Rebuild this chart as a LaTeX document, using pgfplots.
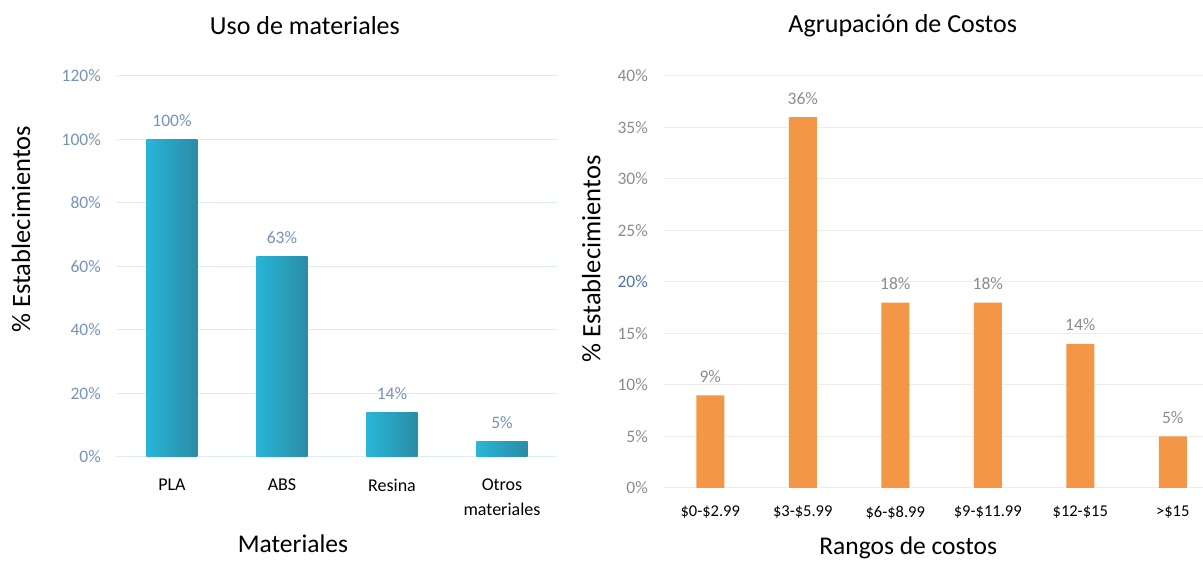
\documentclass[border=0pt]{standalone}
\usepackage{pgfplots}
\pgfplotsset{compat=1.18}
\usepackage{fontspec}
\setmainfont{Carlito}
\definecolor{tickblue}{HTML}{7692B9}
\definecolor{gridblue}{HTML}{DCEBF5}
\definecolor{barL}{HTML}{29B5D8}
\definecolor{barR}{HTML}{2A8CA4}
\definecolor{orangebar}{HTML}{F39646}
\definecolor{tickgray}{HTML}{8C8C8C}
\definecolor{gridgray}{HTML}{EDEDED}
\definecolor{oddblue}{HTML}{4F72AC}
\pgfplotsset{
  common/.style={
    scale only axis,
    anchor=south west,
    axis line style={draw=none},
    major tick style={draw=none},
    minor tick style={draw=none},
    ymajorgrids,
    /pgf/number format/assume math mode=true,
    yticklabel style={inner sep=0pt, xshift=-16pt, anchor=east},
    xticklabel style={inner sep=0pt, anchor=north, align=center},
    clip=false,
  }
}
\begin{document}
\begin{tikzpicture}
\useasboundingbox (0,0) rectangle (1203pt,562pt);
% ---------------- Left chart ----------------
\begin{axis}[common,
  at={(117pt,105pt)},
  width=440pt, height=381pt,
  xmin=-0.5, xmax=3.5, ymin=0, ymax=120,
  ytick={0,20,40,60,80,100,120},
  yticklabel={\pgfmathprintnumber{\tick}\%},
  yticklabel style={font=\fontsize{17.5}{21}\selectfont, text=tickblue},
  xtick={0,1,2,3},
  xticklabels={PLA,ABS,Resina,{Otros\\materiales}},
  xticklabel style={font=\fontsize{18}{25}\selectfont, yshift=-22pt},
  grid style={gridblue, line width=1pt},
  title={Uso de materiales},
  title style={at={(axis description cs:0.427,1.116)}, anchor=center, yshift=0pt, font=\fontsize{26}{30}\selectfont},
  xlabel={Materiales},
  xlabel style={at={(axis description cs:0.40,-0.228)}, anchor=center, font=\fontsize{25.5}{30}\selectfont},
  ylabel={\% Establecimientos},
  ylabel style={at={(axis description cs:-0.218,0.598)}, anchor=center, font=\fontsize{26.5}{30}\selectfont},
  nodes near coords={\pgfmathprintnumber{\pgfplotspointmeta}\%},
  nodes near coords style={anchor=center, yshift=19pt, font=\fontsize{17.5}{21}\selectfont, text=tickblue},
]
\addplot[ybar, bar width=51pt, bar shift=0pt, draw=none, left color=barL, right color=barR] coordinates {(0,100)};
\addplot[ybar, bar width=51pt, bar shift=0pt, draw=none, left color=barL, right color=barR] coordinates {(1,63)};
\addplot[ybar, bar width=51pt, bar shift=0pt, draw=none, left color=barL, right color=barR] coordinates {(2,14)};
\addplot[ybar, bar width=51pt, bar shift=0pt, draw=none, left color=barL, right color=barR] coordinates {(3,5)};
\end{axis}
% ---------------- Right chart ----------------
\begin{axis}[common,
  at={(664pt,74pt)},
  width=539pt, height=412pt,
  xmin=-0.5, xmax=5.327, ymin=0, ymax=40,
  ytick={0,5,10,15,20,25,30,35,40},
  yticklabels={0\%,5\%,10\%,15\%,\textcolor{oddblue}{20\%},25\%,30\%,35\%,40\%},
  yticklabel style={font=\fontsize{17.5}{21}\selectfont, text=tickgray},
  xtick={0,1,2,3,4,5},
  xticklabels={\$0-\$2.99,\$3-\$5.99,\$6-\$8.99,\$9-\$11.99,\$12-\$15,>\$15},
  xticklabel style={font=\fontsize{16.5}{20}\selectfont, yshift=-18pt},
  grid style={gridgray, line width=1pt},
  title={Agrupación de Costos},
  title style={at={(axis description cs:0.443,1.107)}, anchor=center, yshift=0pt, font=\fontsize{26}{30}\selectfont},
  xlabel={Rangos de costos},
  xlabel style={at={(axis description cs:0.453,-0.146)}, anchor=center, font=\fontsize{25.5}{30}\selectfont},
  ylabel={\% Establecimientos},
  ylabel style={at={(axis description cs:-0.135,0.556)}, anchor=center, font=\fontsize{26.5}{30}\selectfont},
  nodes near coords={\pgfmathprintnumber{\pgfplotspointmeta}\%},
  nodes near coords style={anchor=center, yshift=19pt, font=\fontsize{17.5}{21}\selectfont, text=tickgray},
]
\addplot[ybar, bar width=28pt, bar shift=0pt, draw=none, fill=orangebar] coordinates {(0,9) (1,36) (2,18) (3,18) (4,14) (5,5)};
\end{axis}
\end{tikzpicture}
\end{document}
